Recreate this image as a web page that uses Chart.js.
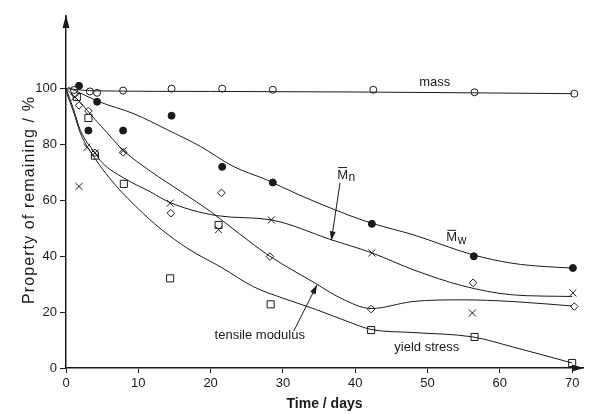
<!DOCTYPE html>
<html lang="en">
<head>
<meta charset="UTF-8">
<title>Property of remaining vs time</title>
<style>
    html, body { margin: 0; padding: 0; background: #fff; }
    #wrap { width: 589px; height: 414px; }
</style>
<script src="https://cdn.jsdelivr.net/npm/chart.js"></script>
</head>
<body>
<div id="wrap"><canvas id="chart" width="589" height="414"></canvas></div>
<script>
// ticks
const xTicks = [0, 10, 20, 30, 40, 50, 60, 70];
const yTicks = [0, 20, 40, 60, 80, 100];

// measured points (days, %)
const massDays = [1.1, 3.3, 4.3, 7.9, 14.6, 21.6, 28.6, 42.5, 56.5, 70.3];
const massVals = [99.5, 99, 98.5, 99.3, 100, 100, 99.6, 99.6, 98.7, 98.2];

const mwDays = [1.8, 3.1, 4.3, 7.9, 14.6, 21.6, 28.6, 42.3, 56.4, 70.1];
const mwVals = [101, 85, 95.3, 85, 90.3, 72, 66.4, 51.6, 40, 35.8];

const mnDays = [1.2, 1.8, 2.9, 4, 7.9, 14.4, 21.1, 28.4, 42.3, 56.2, 70.1];
const mnVals = [97, 65, 79, 77, 77.8, 59, 49.5, 53, 41.2, 19.7, 26.9];

const modDays = [1.2, 1.8, 3.1, 4, 7.9, 14.5, 21.5, 28.2, 42.2, 56.3, 70.3];
const modVals = [98, 94, 92, 77, 77.2, 55.4, 62.7, 39.9, 21.1, 30.5, 22];

const ysDays = [1.5, 3.1, 4, 8, 14.4, 21.1, 28.3, 42.2, 56.5, 70];
const ysVals = [97, 89.5, 76, 65.9, 32.1, 51.2, 22.8, 13.6, 11.1, 1.8];

// hand-drawn trend curves
const massCurve = [[0, 100], [4, 99.2], [20, 99], [40, 98.8], [56, 98.5], [70, 98.2]];
const mwCurve = [[0.3, 100.5], [4.6, 95.3], [9.4, 91], [14, 85.3], [18.6, 79.3], [23.1, 72.2],
    [27.7, 67.4], [32.2, 62], [39, 54.8], [42.3, 51.8], [48, 47.7], [56.3, 40.5],
    [61.7, 37.5], [66.3, 36.3], [70, 35.8]];
const mnCurve = [[0, 100], [1, 93], [2, 85], [4, 77], [5, 73.5], [8, 68], [11.7, 63],
    [14.4, 59.2], [21, 54.5], [28.4, 53], [36.7, 45.9], [42.3, 41.2], [48.1, 35.1],
    [54.9, 29.4], [61.7, 26.2], [70, 25.6]];
const modCurve = [[0, 100], [2, 95], [4, 89], [4.9, 86.5], [7.9, 78], [11.7, 70.4], [16, 63],
    [20, 56], [24, 48], [28.2, 40], [34.5, 30.3], [38, 25], [42.2, 21.3], [48, 23.8],
    [54.9, 24.4], [61.7, 23.8], [70, 22.2]];
const ysCurve = [[0, 99], [1, 92], [2, 84], [4, 75], [7, 65], [10, 57], [13, 50], [17, 42.5],
    [21.5, 36], [26, 29], [30, 25], [34.5, 21], [39, 16.6], [42.2, 13.8], [48, 12.7],
    [56.3, 11.1], [61.7, 7.6], [70, 1.8]];

// labels in the plot
const yTitle = 'Property of remaining / %';
const notes = [
    { text: 'mass', x: 51, y: 102.4 },
    { text: 'tensile modulus', x: 26.8, y: 11.8 },
    { text: 'yield stress', x: 49.9, y: 7.5 }
];
const mLabels = [
    { sub: 'n', x: 37.5, y: 69.1 },
    { sub: 'w', x: 52.6, y: 46.6 }
];
const arrows = [
    { from: [37.9, 66.3], to: [36.7, 45.7] },
    { from: [31.5, 13.2], to: [34.7, 29.7] }
];

const ink = '#1a1a1a';
const toXY = (days, vals) => days.map((d, i) => ({ x: d, y: vals[i] }));
const toPts = arr => arr.map(p => ({ x: p[0], y: p[1] }));

function curve(data) {
    return {
        data: toPts(data), showLine: true, pointRadius: 0,
        borderColor: ink, borderWidth: 1, cubicInterpolationMode: 'monotone'
    };
}
function marks(data, style, radius, fill) {
    return {
        data: data, showLine: false, pointStyle: style, pointRadius: radius,
        borderColor: ink, backgroundColor: fill, pointBorderWidth: 1
    };
}

function arrowHead(ctx, x1, y1, x2, y2) {
    const a = Math.atan2(y2 - y1, x2 - x1);
    ctx.beginPath();
    ctx.moveTo(x2, y2);
    ctx.lineTo(x2 - 9 * Math.cos(a) + 3 * Math.sin(a), y2 - 9 * Math.sin(a) - 3 * Math.cos(a));
    ctx.lineTo(x2 - 9 * Math.cos(a) - 3 * Math.sin(a), y2 - 9 * Math.sin(a) + 3 * Math.cos(a));
    ctx.closePath();
    ctx.fill();
}

const extras = {
    id: 'extras',
    afterDraw(chart) {
        const ctx = chart.ctx;
        const xs = chart.scales.x, ys = chart.scales.y;
        const area = chart.chartArea;
        ctx.save();
        ctx.fillStyle = ink;
        ctx.strokeStyle = ink;
        // axis arrows
        ctx.beginPath();
        ctx.moveTo(area.left, area.top - 1);
        ctx.lineTo(area.left - 3.5, area.top + 12);
        ctx.lineTo(area.left + 3.5, area.top + 12);
        ctx.closePath();
        ctx.fill();
        ctx.beginPath();
        ctx.moveTo(area.right + 1, area.bottom);
        ctx.lineTo(area.right - 11, area.bottom - 3.5);
        ctx.lineTo(area.right - 11, area.bottom + 3.5);
        ctx.closePath();
        ctx.fill();

        // y axis title, spaced out and set lower like the original
        ctx.save();
        ctx.translate(30, 200);
        ctx.rotate(-Math.PI / 2);
        ctx.font = '16px "Liberation Sans", Arial, sans-serif';
        ctx.letterSpacing = '1.1px';
        ctx.textAlign = 'center';
        ctx.textBaseline = 'middle';
        ctx.fillText(yTitle, 0, 0);
        ctx.restore();

        ctx.font = '13px "Liberation Sans", Arial, sans-serif';
        ctx.textAlign = 'center';
        ctx.textBaseline = 'middle';
        notes.forEach(n => {
            ctx.fillText(n.text, xs.getPixelForValue(n.x), ys.getPixelForValue(n.y));
        });

        ctx.textAlign = 'left';
        mLabels.forEach(m => {
            const px = xs.getPixelForValue(m.x), py = ys.getPixelForValue(m.y);
            ctx.font = '13px "Liberation Sans", Arial, sans-serif';
            ctx.fillText('M', px, py);
            const w = ctx.measureText('M').width;
            ctx.lineWidth = 1;
            ctx.beginPath();
            ctx.moveTo(px + 1, py - 7.5);
            ctx.lineTo(px + w - 1, py - 7.5);
            ctx.stroke();
            ctx.font = '12px "Liberation Sans", Arial, sans-serif';
            ctx.fillText(m.sub, px + w + 0.5, py + 3);
        });

        ctx.lineWidth = 1;
        arrows.forEach(a => {
            const x1 = xs.getPixelForValue(a.from[0]), y1 = ys.getPixelForValue(a.from[1]);
            const x2 = xs.getPixelForValue(a.to[0]), y2 = ys.getPixelForValue(a.to[1]);
            ctx.beginPath();
            ctx.moveTo(x1, y1);
            ctx.lineTo(x2, y2);
            ctx.stroke();
            arrowHead(ctx, x1, y1, x2, y2);
        });
        ctx.restore();
    }
};

new Chart(document.getElementById('chart'), {
    type: 'scatter',
    data: {
        datasets: [
            curve(massCurve), curve(mwCurve), curve(mnCurve), curve(modCurve), curve(ysCurve),
            marks(toXY(massDays, massVals), 'circle', 3.5, '#fff'),
            marks(toXY(mwDays, mwVals), 'circle', 3.5, ink),
            marks(toXY(mnDays, mnVals), 'crossRot', 5, ink),
            marks(toXY(modDays, modVals), 'rectRot', 3.8, '#fff'),
            marks(toXY(ysDays, ysVals), 'rect', 5, '#fff')
        ]
    },
    options: {
        responsive: false,
        animation: false,
        layout: { padding: { top: 16, right: 1, left: 0, bottom: 0 } },
        plugins: { legend: { display: false }, tooltip: { enabled: false } },
        scales: {
            x: {
                type: 'linear', min: 0, max: 71.5,
                afterBuildTicks: s => { s.ticks = xTicks.map(v => ({ value: v })); },
                afterFit: s => { s.height = 46; },
                grid: { drawOnChartArea: false, tickLength: 5, color: ink },
                border: { color: ink, width: 1.5 },
                ticks: { color: ink, padding: 3, font: { family: '"Liberation Sans", Arial', size: 13 } },
                title: {
                    display: true, text: 'Time / days', color: ink,
                    font: { family: '"Liberation Sans", Arial', size: 14, weight: 'bold' },
                    padding: { top: 0, bottom: 1 }
                }
            },
            y: {
                type: 'linear', min: 0, max: 126,
                afterBuildTicks: s => { s.ticks = yTicks.map(v => ({ value: v })); },
                afterFit: s => { s.width = 66; },
                grid: { drawOnChartArea: false, tickLength: 6, color: ink },
                border: { color: ink, width: 1.5 },
                ticks: { color: ink, padding: 3, font: { family: '"Liberation Sans", Arial', size: 13 } },
                title: { display: false }
            }
        }
    },
    plugins: [extras]
});
</script>
</body>
</html>
